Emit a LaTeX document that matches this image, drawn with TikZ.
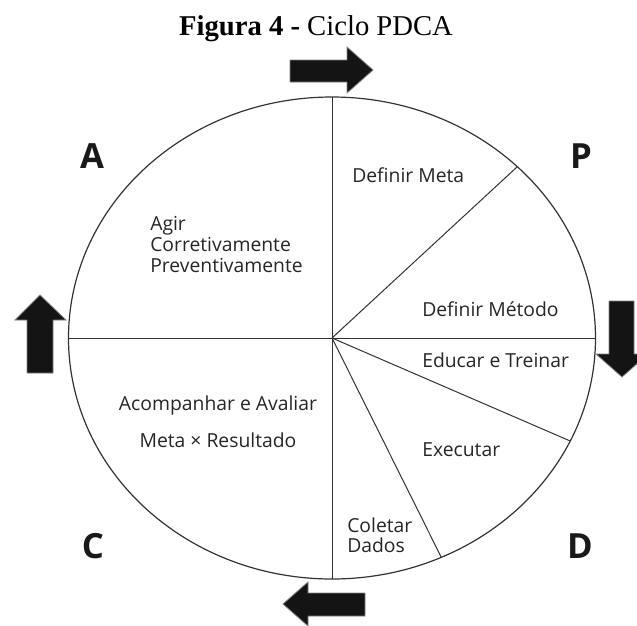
\documentclass[tikz,border=0pt]{standalone}
\usepackage{fontspec}
\setmainfont{Open Sans}
\newfontfamily\titlefont{Liberation Serif}
\begin{document}
\begin{tikzpicture}[x=0.75pt,y=-0.75pt,
  rim/.style={draw=black!80, line width=0.9pt},
  divider/.style={draw=black!80, line width=0.75pt},
  blockarrow/.style={fill=black!92, draw=black!50, line width=0.6pt, line join=miter},
  phase/.style={font=\fontsize{26}{30}\selectfont\bfseries, text=black!90, inner sep=0pt},
  steplabel/.style={font=\fontsize{14.5}{15.5}\selectfont, text=black!85, inner sep=0pt},
]
\useasboundingbox (0,0) rectangle (637,626);

% title
\node[font=\titlefont\fontsize{21.5}{24}\selectfont, anchor=base, inner sep=0pt] (title) at (316,35)
  {\textbf{Figura 4 -} Ciclo PDCA};

% the wheel
\coordinate (O) at (332,338);
\coordinate (top) at (332,97);
\coordinate (bottom) at (332,579);
\coordinate (left) at (68.5,338);
\coordinate (right) at (595.5,338);
\coordinate (meta) at (517.3,166.7);
\coordinate (treino) at (570.2,441);
\coordinate (coleta) at (441.3,557.3);
\draw[rim] (O) ellipse [x radius=263.5, y radius=241];
\draw[divider] (top) -- (bottom);
\draw[divider] (left) -- (right);
\draw[divider] (O) -- (meta);
\draw[divider] (O) -- (treino);
\draw[divider] (O) -- (coleta);

% phase letters
\node[phase, anchor=base] (pA) at (92,168) {A};
\node[phase, anchor=base] (pP) at (581,168) {P};
\node[phase, anchor=base] (pC) at (93,558) {C};
\node[phase, anchor=base] (pD) at (580,558) {D};

% step labels
\node[steplabel, anchor=base west] (s1) at (352,182) {Definir Meta};
\node[steplabel, anchor=base west] (s2) at (422,316) {Definir Método};
\node[steplabel, anchor=base west] (s3) at (422,367) {Educar e Treinar};
\node[steplabel, anchor=base west] (s4) at (422,456) {Executar};
\node[steplabel, anchor=base west] (s5a) at (347,532) {Coletar};
\node[steplabel, anchor=base west] (s5b) at (347,552) {Dados};
\node[steplabel, anchor=base] (s6a) at (218,410) {Acompanhar e Avaliar};
\node[steplabel, anchor=base] (s6b) at (218,447) {Meta × Resultado};
\node[steplabel, anchor=base west] (s7a) at (150,230) {Agir};
\node[steplabel, anchor=base west] (s7b) at (150,251) {Corretivamente};
\node[steplabel, anchor=base west] (s7c) at (150,272) {Preventivamente};

% direction arrows
\draw[blockarrow] (290,60) -- (347,60) -- (347,47) -- (373,70) -- (347,93) -- (347,82) -- (290,82) -- cycle;
\draw[blockarrow] (609,301) -- (634,301) -- (634,354) -- (648,354) -- (622,377) -- (596,354) -- (609,354) -- cycle;
\draw[blockarrow] (365,593) -- (308,593) -- (308,582) -- (283,604) -- (308,626) -- (308,616) -- (365,616) -- cycle;
\draw[blockarrow] (27,373) -- (27,320) -- (15,320) -- (40,295) -- (66,320) -- (53,320) -- (53,373) -- cycle;
\end{tikzpicture}
\end{document}
